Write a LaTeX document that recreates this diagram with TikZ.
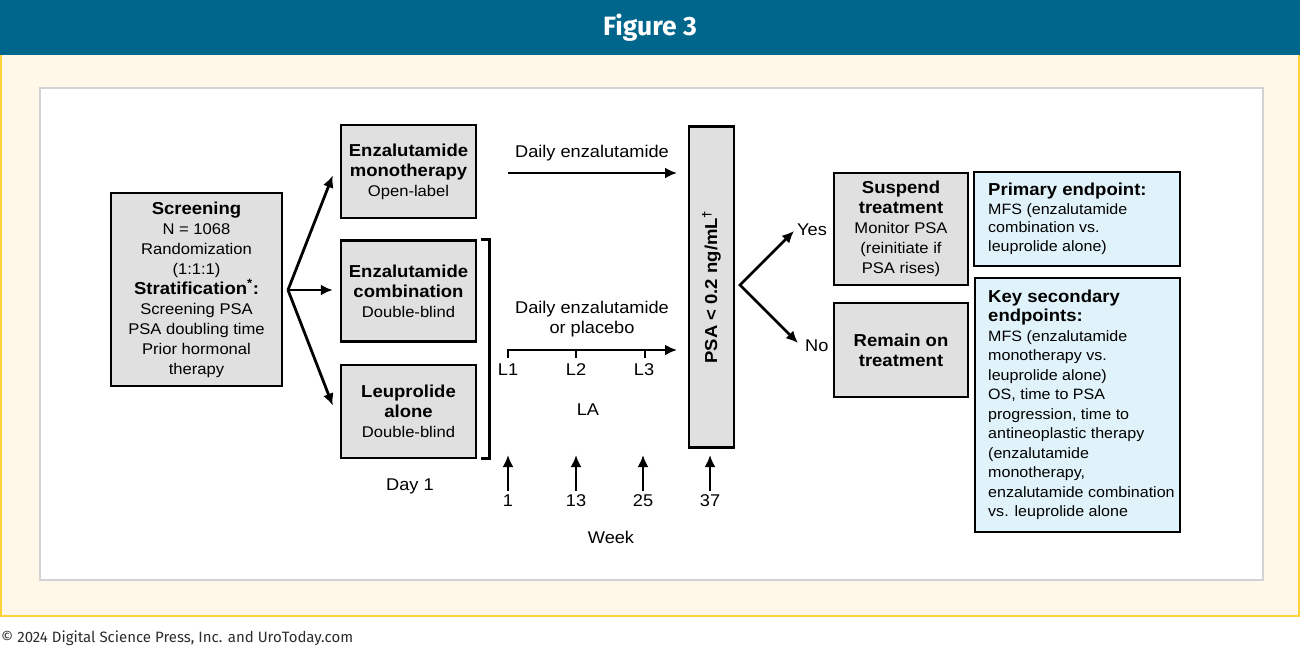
\documentclass[tikz,border=0pt]{standalone}
\usepackage{fontspec}
\setmainfont{Liberation Sans}[FakeStretch=1.07]
\newfontfamily\fira{Fira Sans}
\usetikzlibrary{arrows.meta,calc}
\definecolor{hdr}{RGB}{0,102,140}
\definecolor{cream}{RGB}{255,248,233}
\definecolor{ylw}{RGB}{255,210,60}
\definecolor{pgray}{RGB}{210,210,210}
\definecolor{boxg}{RGB}{224,224,224}
\definecolor{boxb}{RGB}{225,243,250}
\definecolor{foot}{RGB}{45,45,45}
\newcommand{\bl}[1]{{\fontsize{17.3}{20}\selectfont\bfseries #1}}
\begin{document}
\begin{tikzpicture}[x=1pt,y=-1pt,
  gbox/.style={draw=black, line width=2.5pt, fill=boxg, align=center, inner sep=0pt,
    font=\fontsize{15.5}{20}\selectfont},
  bbox/.style={draw=black, line width=2.5pt, fill=boxb, inner sep=0pt},
  lbl/.style={inner sep=0pt, font=\fontsize{17}{20}\selectfont},
  arr/.style={line width=2.8pt, -{Latex[length=12pt,width=11pt]}},
  darr/.style={line width=2.8pt, {Latex[length=12pt,width=11pt]}-{Latex[length=12pt,width=11pt]}},
  ln/.style={line width=2.5pt}
]
\useasboundingbox (0,0) rectangle (1300,647);
% background
\fill[white] (0,0) rectangle (1300,647);
\fill[cream] (0,55) rectangle (1300,617);
\draw[ylw, line width=2.5pt] (1,55) -- (1,616) -- (1299,616) -- (1299,55);
\fill[hdr] (0,0) rectangle (1300,55);
\node[text=white, font=\fira\bfseries\fontsize{26.5}{30}\selectfont] (title) at (650,28) {Figure 3};
\draw[pgray, line width=2pt, fill=white] (40,88) rectangle (1263,580);
\node[anchor=base west, inner sep=0pt, text=foot, font=\fira\fontsize{15}{17}\selectfont] (foot) at (1,642) {© 2024 Digital Science Press, Inc. and UroToday.com};

% boxes
\node[gbox, minimum width=171, minimum height=193] (scr) at (196.5,289.5)
 {\bl{Screening}\\N = 1068\\Randomization\\(1:1:1)\\\bl{Stratification\textsuperscript{*}:}\\Screening PSA\\PSA doubling time\\Prior hormonal\\therapy};
\node[gbox, minimum width=135, minimum height=93] (mono) at (408.5,171.5)
 {\bl{Enzalutamide}\\\bl{monotherapy}\\Open-label};
\node[gbox, minimum width=135, minimum height=101] (comb) at (408.5,291)
 {\bl{Enzalutamide}\\\bl{combination}\\Double-blind};
\node[gbox, minimum width=135, minimum height=93] (leup) at (408.5,411.5)
 {\bl{Leuprolide}\\\bl{alone}\\Double-blind};
\node[gbox, minimum width=45, minimum height=321] (psa) at (711.5,287) {};
\node[rotate=90, inner sep=0pt] (psal) at (psa.center) {\bl{PSA < 0.2 ng/mL\textsuperscript{†}}};
\node[gbox, minimum width=134, minimum height=112] (susp) at (901,229)
 {\bl{Suspend}\\\bl{treatment}\\Monitor PSA\\(reinitiate if\\PSA rises)};
\node[gbox, minimum width=134, minimum height=94] (rem) at (901,350)
 {\bl{Remain on}\\\bl{treatment}};
\node[bbox, minimum width=206, minimum height=94] (prim) at (1077,219) {};
\node[anchor=west, align=left, inner sep=0pt, font=\fontsize{15}{18.5}\selectfont] (primt) at (988,219)
 {\bl{Primary endpoint:}\\MFS (enzalutamide\\combination vs.\\leuprolide alone)};
\node[bbox, minimum width=205, minimum height=254] (key) at (1077.5,405) {};
\node[anchor=west, align=left, inner sep=0pt, font=\fontsize{15}{19.5}\selectfont] (keyt) at (988,405)
 {\bl{Key secondary}\\\bl{endpoints:}\\MFS (enzalutamide\\monotherapy vs.\\leuprolide alone)\\OS, time to PSA\\progression, time to\\antineoplastic therapy\\(enzalutamide\\monotherapy,\\enzalutamide combination\\vs. leuprolide alone};

% randomization arrows
\coordinate (fork) at (288,290);
\draw[arr] (fork) -- ($(mono.west)+(-7,4)$);
\draw[arr] (fork) -- ($(comb.west)+(-7,-1)$);
\draw[arr] (fork) -- ($(leup.west)+(-7,-6)$);

% bracket
\draw[ln] ($(comb.north east)+(4,0)$) -- ++(8,0) |- ($(leup.south east)+(4,-1)$);

% daily enzalutamide
\coordinate (d1s) at (508,173);
\coordinate (d1e) at (677,173);
\draw[arr] (d1s) -- (d1e);
\node[lbl] (d1l) at (592,153) {Daily enzalutamide};

% timeline
\coordinate (t0) at (508,350);
\coordinate (t1) at (677,350);
\draw[arr] (t0) -- (t1);
\draw[ln] (508,349) -- (508,358);
\draw[ln] (576,349) -- (576,358);
\draw[ln] (645,349) -- (645,358);
\node[lbl, align=center] (d2l) at (592,319) {Daily enzalutamide\\or placebo};
\node[lbl] (l1) at (508,370) {L1};
\node[lbl] (l2) at (576,370) {L2};
\node[lbl] (l3) at (644,370) {L3};
\node[lbl] (la) at (588,410) {LA};

% week arrows
\foreach \x/\w/\n in {508/1/w1, 576/13/w2, 643/25/w3, 710/37/w4}{
  \coordinate (\n b) at (\x,491);
  \coordinate (\n t) at (\x,455);
  \draw[arr] (\n b) -- (\n t);
  \node[lbl] (\n) at (\x,501) {\w};
}
\node[lbl] (week) at (611,537) {Week};
\node[lbl] (day1) at (410,486) {Day 1};

% yes/no
\coordinate (vx) at (740,285);
\coordinate (yt) at (794,231);
\coordinate (nt) at (798,343);
\draw[darr] (yt) -- (vx) -- (nt);
\node[lbl, anchor=west] (yes) at (797,230) {Yes};
\node[lbl, anchor=west] (no) at (805,346) {No};
\end{tikzpicture}
\end{document}
